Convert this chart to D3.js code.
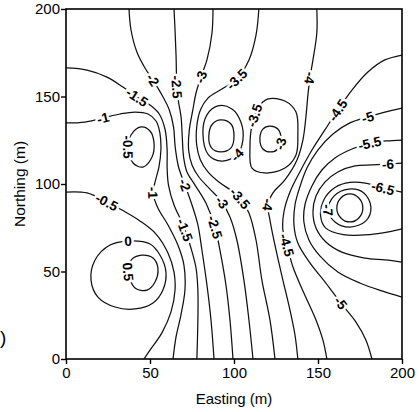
<!DOCTYPE html>
<html>
<head>
<meta charset="utf-8">
<script src="https://cdn.jsdelivr.net/npm/d3@7"></script>
<style>
  body { margin: 0; background: #fff; }
  svg { display: block; font-family: Arial, "Liberation Sans", sans-serif; }
</style>
</head>
<body>
<svg id="drawing_region"></svg>
<script>
// tick values (m)
const xTicks = [0, 50, 100, 150, 200];
const yTicks = [0, 50, 100, 150, 200];

// contour lines: [level, closed, [[easting, northing], ...]]
const contourLines = [
  [-2, false, [[37.5,200],[38.7,188],[42.2,175.4],[47,166.3],[51.8,159.4],[57.1,150.9],[61.5,142.3],[64,132.6],[65,121.1],[67,109.7],[70.8,99.4],[75,88],[78.5,76.6],[80.9,62.3],[83.9,42.3],[86.3,22.3],[88.1,0]]],
  [-2.5, false, [[64.3,200],[64.9,188],[65.5,173.7],[66,155.4],[66.8,148],[68.5,138.3],[69.2,126.9],[70,115.4],[72,106.9],[76.8,99.4],[83.3,89.1],[88.7,75.4],[91.6,62.3],[95.2,42.3],[97.6,22.3],[99.4,0]]],
  [-3, false, [[87.5,200],[86.9,186.3],[83.9,170.9],[80.3,161.1],[77.4,152],[75.5,142.3],[73.4,130.9],[73,119.4],[75,110.9],[79.1,104],[85.7,97.1],[92.8,89.7],[97.6,81.1],[101.7,68],[105.9,45.1],[108.9,22.3],[111.3,0]]],
  [-3.5, false, [[114.8,200],[113.1,185.1],[108.9,170.9],[101.7,160],[92.8,154.3],[84.5,149.1],[80,142.3],[77.8,132.6],[77.8,122.3],[80,113.7],[84.5,106.9],[91,101.1],[98.8,96],[103.5,92],[108.9,83.4],[113.1,68],[116.6,45.1],[121.4,22.3],[124.4,0]]],
  [-4, true, [[81.5,129.1],[83.8,139.4],[90.4,144.6],[98.8,142.9],[104.1,135.4],[105.3,125.1],[101.7,116.6],[92.8,113.1],[84.8,116.6]]],
  [-4.5, true, [[85,127.4],[87.2,134.3],[92.2,136.6],[98.2,134.3],[100,127.4],[98.2,120.6],[92.2,118.3],[86.6,120.6]]],
  [-3.5, true, [[110.7,133.7],[114.2,143.4],[120.2,148.6],[130.3,147.4],[136.9,141.1],[138,128],[136.9,116.6],[130.3,109.1],[118.4,106.3],[110.7,109.1],[109.5,120.6]]],
  [-3, true, [[115.4,125.7],[117.2,131.4],[121.4,133.1],[126.1,131.4],[128,125.7],[126.1,120],[121.4,118.3],[117.2,120]]],
  [-4, false, [[149.3,200],[149.3,186.3],[147,170.9],[145.2,160.6],[144,150.9],[142.8,138.3],[141,125.1],[137.5,113.7],[130.3,102.3],[123.2,94.9],[120.2,88],[121.4,79.4],[125,62.3],[129.1,45.1],[133.3,28],[136.3,13.7],[138,0]]],
  [-4.5, false, [[200,173.7],[189.8,170.9],[179.7,164],[170.2,153.7],[161.8,142.3],[154.1,130.9],[146.4,119.4],[139.2,106.9],[133.3,95.4],[129.7,84],[129.1,73.7],[131.5,65.1],[135.1,52.6],[141.6,37.7],[148.8,22.3],[152.9,10.9],[155.3,0]]],
  [-5, false, [[200,143.4],[189.8,141.1],[179.7,138.3],[169,134.9],[158.9,128.6],[149.9,119.4],[143.4,109.1],[139.2,98.3],[136.3,88],[135.7,76.6],[138,66.3],[145.2,54.9],[154.7,43.4],[163.6,32],[172.6,21.1],[178.5,10.9],[182.1,0]]],
  [-5.5, false, [[200,125.1],[190.4,124.6],[180.9,123.4],[170.2,120],[160.1,114.9],[152.3,108],[146.4,98.9],[142.2,88],[141.6,78.3],[144.6,68],[151.1,58.9],[161.8,49.7],[174.9,43.4],[188,38.9],[200,35.4]]],
  [-6, false, [[200,112],[191.6,111.4],[182.1,110.9],[172,110.3],[161.8,106.9],[154.1,101.1],[148.8,93.1],[147,84],[148.8,74.9],[154.7,66.9],[164.2,61.1],[177.9,57.7],[189.8,56.6],[200,55.4]]],
  [-6.5, false, [[200,95.4],[188.6,97.7],[179.1,100.3],[169,100.9],[160.1,98],[153.5,91],[151.5,82.3],[154.5,74.9],[165,71.1],[180.9,71.1],[192,72.6],[200,74.3]]],
  [-7, true, [[155.9,85.1],[159.5,93.1],[168.4,97.1],[177.3,94.9],[181.5,86.9],[178.5,78.9],[169,75.4],[160.1,78.3]]],
  [-7.5, true, [[161.2,86.3],[163.6,92],[169,94.3],[174.3,92],[176.7,86.3],[174.3,80.6],[169,78.3],[163.6,80.6]]],
  [-1.5, false, [[0,166.3],[12.5,165.1],[24.4,161.1],[33.9,155.4],[42.2,149.7],[50,145.1],[55.5,140],[59,131],[60.2,119.4],[60.2,109.1],[61,99.4],[64.3,88],[68.4,79.4],[70.8,73.7],[74.4,63.4],[77.4,52],[78.5,39.4],[78.5,22.3],[77.9,0]]],
  [-1, false, [[0,134.9],[11.3,135.4],[22,137.7],[32.1,140],[41.1,141.1],[48.8,140],[53.6,136],[55.9,129.1],[56.5,119.4],[55.3,109.7],[53,101.1],[51.8,94.9],[54.7,86.3],[60.7,76.6],[66.6,65.1],[70.2,53.7],[70.8,39.4],[68.4,25.1],[65.5,12.6],[63.7,0]]],
  [-0.5, true, [[36.9,121.1],[38.7,128],[44.6,132.6],[50,130.3],[52.4,123.4],[51.2,115.4],[45.8,109.7],[39.9,112]]],
  [-0.5, false, [[0,95.4],[12.5,94.9],[24.4,89.7],[33.3,85.1],[44,78.9],[53.6,71.4],[60.7,60.6],[64.3,49.7],[64.9,39.4],[62.5,26.9],[57.1,14.9],[50,5.1],[46.4,0]]],
  [0, true, [[36.9,67.4],[50,65.7],[55.9,59.4],[59.5,49.7],[57.7,39.4],[51.8,32],[41.1,28.6],[29.2,29.7],[19,35.4],[14.9,45.1],[17.3,56.6],[26.2,65.1]]],
  [0.5, true, [[36.9,50.9],[39.3,57.1],[45.2,59.4],[51.8,57.7],[54.7,52],[53,44],[48.2,39.4],[41.1,40.6]]]
];

// where each value label sits: [level, easting, northing]
const contourLabels = [
  [-2, 51.2, 159.4], [-2.5, 66, 155.4], [-3, 80.3, 161.1], [-3.5, 101.7, 160], [-4, 145.2, 160.6],
  [-1.5, 42.2, 149.7], [-1, 22, 137.7], [-0.5, 36.9, 121.1], [-3.5, 112.5, 139], [-3, 127.5, 123],
  [-4, 101.7, 116.6], [-4.5, 161.8, 142.3], [-5, 179.7, 138.3], [-5.5, 180.9, 123.4], [-6, 191.6, 111.4],
  [-6.5, 188.6, 97.7], [-7, 155.9, 85.1], [-2, 70.8, 99.4], [-1, 51.8, 94.9], [-0.5, 24.4, 89.7],
  [-1.5, 70.8, 73.7], [-2.5, 88.7, 75.4], [-3, 92.8, 89.7], [-3.5, 103.5, 92], [-4, 120.2, 88],
  [-4.5, 131.5, 65.1], [-5, 163.6, 32], [0, 36.9, 67.4], [0.5, 37.5, 50]
];

const config = {
  width: 419,
  height: 412,
  margin: {top: 9, right: 17, bottom: 53, left: 66}
};

const svg = d3.select('#drawing_region')
  .attr('width', config.width)
  .attr('height', config.height);

const inner_width = config.width - config.margin.left - config.margin.right;
const inner_height = config.height - config.margin.top - config.margin.bottom;

const chart = svg.append('g')
  .attr('transform', `translate(${config.margin.left}, ${config.margin.top})`);

const xscale = d3.scaleLinear().domain([0, 200]).range([0, inner_width]);
const yscale = d3.scaleLinear().domain([0, 200]).range([inner_height, 0]);

svg.append('defs').append('clipPath').attr('id', 'plot-clip')
  .append('rect').attr('width', inner_width).attr('height', inner_height);

const lineOpen = d3.line()
  .x(d => xscale(d[0])).y(d => yscale(d[1]))
  .curve(d3.curveCatmullRom.alpha(0.5));
const lineClosed = d3.line()
  .x(d => xscale(d[0])).y(d => yscale(d[1]))
  .curve(d3.curveCatmullRomClosed.alpha(0.5));

const lines = chart.append('g')
  .attr('clip-path', 'url(#plot-clip)')
  .selectAll('path')
  .data(contourLines)
  .join('path')
  .attr('d', d => (d[1] ? lineClosed : lineOpen)(d[2]))
  .attr('fill', 'none')
  .attr('stroke', '#111')
  .attr('stroke-width', 1.25);

// labels: snap to the nearest point of the drawn line, turn with it
const labelGroup = chart.append('g');
contourLabels.forEach(([level, lx, ly]) => {
  const px = xscale(lx), py = yscale(ly);
  let best = null;
  lines.filter(d => d[0] === level).each(function() {
    const len = this.getTotalLength();
    for (let s = 0; s <= len; s += 0.5) {
      const p = this.getPointAtLength(s);
      const dist = (p.x - px) ** 2 + (p.y - py) ** 2;
      if (!best || dist < best.dist) best = {dist, s, len, node: this, x: p.x, y: p.y};
    }
  });
  const a = best.node.getPointAtLength(Math.max(0, best.s - 4));
  const b = best.node.getPointAtLength(Math.min(best.len, best.s + 4));
  let angle = Math.atan2(b.y - a.y, b.x - a.x) * 180 / Math.PI;
  if (angle > 90) angle -= 180;
  if (angle <= -90) angle += 180;
  if (angle < -80) angle += 180;
  labelGroup.append('text')
    .attr('transform', `translate(${best.x}, ${best.y}) rotate(${angle})`)
    .attr('text-anchor', 'middle')
    .attr('dy', '0.36em')
    .attr('font-size', '13.5px')
    .attr('font-weight', 'bold')
    .attr('stroke', '#fff')
    .attr('stroke-width', 5)
    .attr('stroke-linejoin', 'round')
    .attr('paint-order', 'stroke')
    .attr('fill', '#000')
    .text(String(level));
});

// frame
chart.append('rect')
  .attr('width', inner_width)
  .attr('height', inner_height)
  .attr('fill', 'none')
  .attr('stroke', '#000')
  .attr('stroke-width', 1.6);

const xaxis = d3.axisBottom(xscale).tickValues(xTicks).tickSize(5).tickPadding(3);
const yaxis = d3.axisLeft(yscale).tickValues(yTicks).tickSize(5).tickPadding(1);

const xaxis_group = chart.append('g')
  .attr('transform', `translate(0, ${inner_height})`)
  .call(xaxis);
const yaxis_group = chart.append('g').call(yaxis);

[xaxis_group, yaxis_group].forEach(g => {
  g.select('.domain').remove();
  g.selectAll('.tick line').attr('stroke', '#000').attr('stroke-width', 1.4);
  g.selectAll('.tick text')
    .attr('fill', '#000')
    .attr('font-size', '15px')
    .attr('font-family', 'Arial, "Liberation Sans", sans-serif');
});

svg.append('text')
  .attr('x', config.margin.left + inner_width / 2)
  .attr('y', 404)
  .attr('text-anchor', 'middle')
  .attr('font-size', '15px')
  .text('Easting (m)');

svg.append('text')
  .attr('transform', `translate(25, ${config.margin.top + inner_height / 2}) rotate(-90)`)
  .attr('text-anchor', 'middle')
  .attr('font-size', '15.5px')
  .text('Northing (m)');

// stray bracket left on the scanned page
svg.append('text')
  .attr('x', 0)
  .attr('y', 344)
  .attr('font-size', '19px')
  .text(')');
</script>
</body>
</html>
